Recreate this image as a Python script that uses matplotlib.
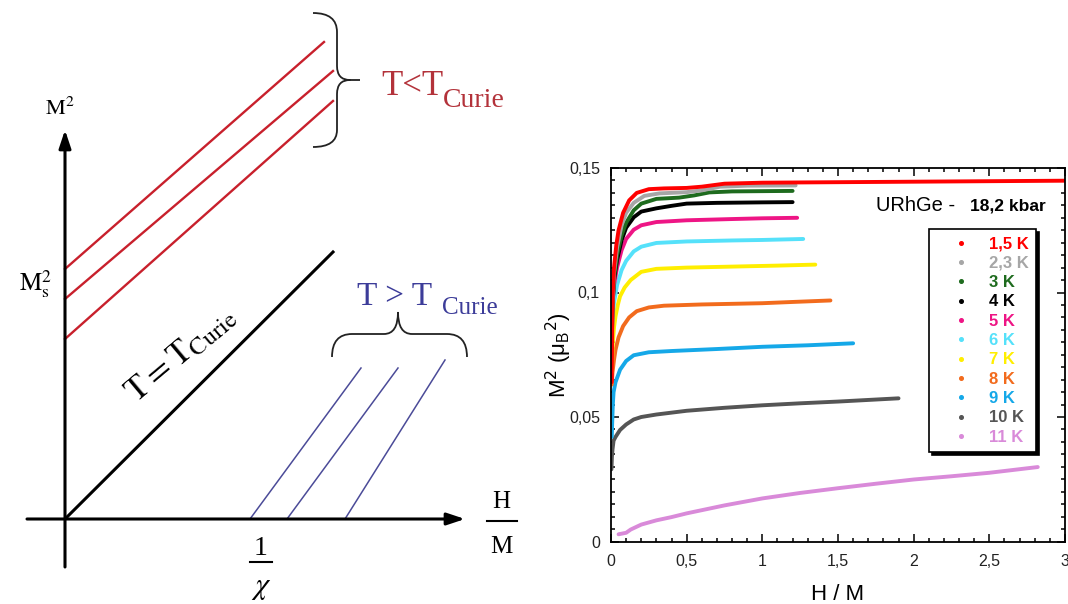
import matplotlib
matplotlib.use('Agg')
import matplotlib.pyplot as plt
from matplotlib.lines import Line2D
from matplotlib.path import Path
from matplotlib.patches import PathPatch
from matplotlib.ticker import MultipleLocator

plt.rcParams['font.family'] = ['Liberation Sans', 'DejaVu Sans']

# ---- left sketch (drawn in pixel units of the picture) ----
origin = (65, 519)
red_y0 = [269, 299, 339]
red_x1 = [324, 333, 333]
red_y1 = [42, 71, 101]
curie_x = [65, 333]
curie_y = [519, 252]
blue_x0 = [250, 287, 345]
blue_x1 = [361, 398, 445]
blue_y1 = [368, 368, 360]

# ---- right plot: URhGe at 18,2 kbar ----
labels = ['1,5 K', '2,3 K', '3 K', '4 K', '5 K', '6 K', '7 K', '8 K', '9 K', '10 K', '11 K']
colors = ['#ff0000', '#a6a6a6', '#1e6b1e', '#000000', '#ee1585', '#55e1fa',
          '#ffee00', '#f26b1d', '#15a8e8', '#555555', '#d98ad9']

x15 = [0.005, 0.008, 0.012, 0.02, 0.035, 0.05, 0.08, 0.12, 0.17, 0.25, 0.35, 0.5, 0.6, 0.75, 1.0, 1.5, 2.0, 2.5, 3.0]
y15 = [0.064, 0.085, 0.100, 0.110, 0.119, 0.125, 0.132, 0.137, 0.1400, 0.1415, 0.1418, 0.1420, 0.1425, 0.1437, 0.1441, 0.1443, 0.1445, 0.1447, 0.1449]
x23 = [0.005, 0.01, 0.02, 0.04, 0.07, 0.1, 0.15, 0.22, 0.32, 0.5, 0.6, 0.72, 0.9, 1.22]
y23 = [0.078, 0.095, 0.108, 0.118, 0.127, 0.132, 0.136, 0.1388, 0.1398, 0.1403, 0.1410, 0.1425, 0.1429, 0.1430]
x3 = [0.005, 0.01, 0.02, 0.04, 0.07, 0.1, 0.15, 0.2, 0.3, 0.45, 0.55, 0.65, 0.8, 1.0, 1.2]
y3 = [0.080, 0.094, 0.106, 0.115, 0.123, 0.128, 0.1330, 0.1357, 0.1376, 0.1381, 0.1390, 0.1402, 0.1406, 0.1407, 0.1408]
x4 = [0.005, 0.01, 0.02, 0.04, 0.07, 0.1, 0.15, 0.2, 0.3, 0.4, 0.5, 0.7, 1.0, 1.2]
y4 = [0.085, 0.095, 0.105, 0.113, 0.121, 0.126, 0.1302, 0.1325, 0.1338, 0.1348, 0.1357, 0.1360, 0.1362, 0.1363]
x5 = [0.005, 0.01, 0.02, 0.04, 0.07, 0.1, 0.15, 0.2, 0.3, 0.5, 0.8, 1.0, 1.23]
y5 = [0.088, 0.096, 0.103, 0.110, 0.117, 0.1215, 0.1252, 0.1270, 0.1283, 0.1290, 0.1295, 0.1298, 0.1300]
x6 = [0.005, 0.01, 0.02, 0.04, 0.07, 0.1, 0.15, 0.2, 0.3, 0.5, 0.8, 1.0, 1.27]
y6 = [0.084, 0.090, 0.096, 0.103, 0.109, 0.1127, 0.1165, 0.1184, 0.1199, 0.1205, 0.1209, 0.1211, 0.1215]
x7 = [0.005, 0.01, 0.02, 0.03, 0.045, 0.06, 0.09, 0.13, 0.2, 0.3, 0.5, 0.8, 1.1, 1.35]
y7 = [0.068, 0.078, 0.086, 0.0905, 0.095, 0.0985, 0.102, 0.105, 0.1083, 0.1095, 0.1100, 0.1104, 0.1108, 0.1112]
x8 = [0.005, 0.01, 0.02, 0.03, 0.05, 0.08, 0.12, 0.17, 0.25, 0.35, 0.6, 1.0, 1.2, 1.45]
y8 = [0.063, 0.068, 0.073, 0.077, 0.082, 0.0865, 0.0900, 0.0925, 0.0940, 0.0947, 0.0952, 0.0957, 0.0962, 0.0968]
x9 = [0.005, 0.008, 0.012, 0.017, 0.03, 0.06, 0.1, 0.15, 0.25, 0.4, 0.7, 1.0, 1.3, 1.6]
y9 = [0.042, 0.048, 0.055, 0.060, 0.064, 0.069, 0.0725, 0.0748, 0.0760, 0.0765, 0.0773, 0.0782, 0.0788, 0.0796]
x10 = [0.003, 0.006, 0.01, 0.017, 0.03, 0.06, 0.1, 0.15, 0.2, 0.3, 0.5, 0.75, 1.0, 1.25, 1.5, 1.9]
y10 = [0.029, 0.034, 0.037, 0.0405, 0.042, 0.0448, 0.0470, 0.0490, 0.0500, 0.0510, 0.0525, 0.0537, 0.0547, 0.0555, 0.0562, 0.0575]
x11 = [0.05, 0.1, 0.13, 0.2, 0.3, 0.4, 0.5, 0.75, 1.0, 1.25, 1.5, 1.75, 2.0, 2.25, 2.5, 2.82]
y11 = [0.0029, 0.0035, 0.0048, 0.0068, 0.0085, 0.0098, 0.0113, 0.0145, 0.0173, 0.0195, 0.0214, 0.0232, 0.0249, 0.0262, 0.0276, 0.0299]

xs = [x15, x23, x3, x4, x5, x6, x7, x8, x9, x10, x11]
ys = [y15, y23, y3, y4, y5, y6, y7, y8, y9, y10, y11]

xticks = [0, 0.5, 1, 1.5, 2, 2.5, 3]
xticklabels = ['0', '0,5', '1', '1,5', '2', '2,5', '3']
yticks = [0, 0.05, 0.1, 0.15]
yticklabels = ['0', '0,05', '0,1', '0,15']

red_line = '#c8202c'
red_text = '#b3323a'
blue_line = '#4b4b98'
blue_text = '#3c3c99'

fig = plt.figure(figsize=(10.68, 6.04), dpi=100)

# sketch
ax0 = fig.add_axes([0, 0, 1, 1])
ax0.set_xlim(0, 1068)
ax0.set_ylim(604, 0)
ax0.axis('off')

arrow = dict(arrowstyle='-|>,head_length=0.9,head_width=0.3', lw=2.2, color='black',
             shrinkA=0, shrinkB=0, mutation_scale=12)
ax0.annotate('', xy=(origin[0], 130), xytext=(origin[0], 567), arrowprops=arrow)
ax0.annotate('', xy=(465, origin[1]), xytext=(27, origin[1]), arrowprops=arrow)

for y0, x1, y1 in zip(red_y0, red_x1, red_y1):
    ax0.plot([origin[0], x1], [y0, y1], color=red_line, lw=1.7)
ax0.plot(curie_x, curie_y, color='black', lw=2.2)
for x0, x1, y1 in zip(blue_x0, blue_x1, blue_y1):
    ax0.plot([x0, x1], [origin[1], y1], color=blue_line, lw=1.1)

M, L, C = Path.MOVETO, Path.LINETO, Path.CURVE3
brace_red = Path([(313, 13), (337, 13), (337, 32), (337, 66), (337, 80), (350, 80),
                  (337, 80), (337, 94), (337, 130), (337, 147), (313, 147),
                  (350, 80), (360, 80)],
                 [M, C, C, L, C, C, C, C, L, C, C, M, L])
ax0.add_patch(PathPatch(brace_red, fill=False, lw=1.3, edgecolor='#222222'))
brace_blue = Path([(332, 357), (332, 334), (352, 334), (384, 334), (398, 334), (398, 312),
                   (398, 334), (412, 334), (447, 334), (467, 334), (467, 357)],
                  [M, C, C, L, C, C, C, C, L, C, C])
ax0.add_patch(PathPatch(brace_blue, fill=False, lw=1.3, edgecolor='#222222'))

serif = 'Liberation Serif'
ax0.text(45, 115, r'$\mathrm{M}^2$', fontsize=16, math_fontfamily='stix', va='baseline')
ax0.text(19, 291, r'$\mathrm{M}_\mathrm{s}^2$', fontsize=18, math_fontfamily='stix', va='baseline')
ax0.text(381, 95, 'T<T', fontsize=25, family=serif, color=red_text, va='baseline')
ax0.text(443, 107, 'Curie', fontsize=20, family=serif, color=red_text, va='baseline')
ax0.text(357, 305, 'T > T', fontsize=24, family=serif, color=blue_text, va='baseline')
ax0.text(442, 314, 'Curie', fontsize=18, family=serif, color=blue_text, va='baseline')
ax0.text(180, 354, r'$\mathrm{T = T_{Curie}}$', fontsize=25, math_fontfamily='stix',
         rotation=40, ha='center', va='center', rotation_mode='anchor')
ax0.text(261, 555, '1', fontsize=20, family=serif, ha='center', va='baseline')
ax0.plot([250, 272], [562, 562], color='black', lw=1.5)
ax0.text(261, 594, r'$\chi$', fontsize=22, math_fontfamily='stix', ha='center', va='baseline')
ax0.text(501, 508, 'H', fontsize=18, family=serif, ha='center', va='baseline')
ax0.plot([487, 517], [521, 521], color='black', lw=1.5)
ax0.text(501, 553, 'M', fontsize=18, family=serif, ha='center', va='baseline')

# data plot
ax = fig.add_axes([611 / 1068, 62.5 / 604, 454 / 1068, 373.5 / 604])
for x, y, c in list(zip(xs, ys, colors))[::-1]:
    ax.plot(x, y, color=c, lw=2.8, solid_capstyle='round', solid_joinstyle='round')

ax.set_xlim(0, 3)
ax.set_ylim(0, 0.15)
ax.set_xticks(xticks, xticklabels)
ax.set_yticks(yticks, yticklabels)
ax.xaxis.set_minor_locator(MultipleLocator(0.1))
ax.yaxis.set_minor_locator(MultipleLocator(0.005))
ax.tick_params(which='both', direction='in', top=True, right=True, width=1.1,
               labelsize=11.5, labelcolor='#222222')
ax.tick_params(which='major', length=5.8)
ax.tick_params(which='minor', length=3)
ax.tick_params(axis='x', pad=9)
ax.tick_params(axis='y', pad=8)
for s in ax.spines.values():
    s.set_linewidth(1.3)
ax.set_xlabel('H / M', fontsize=16, labelpad=11)
ax.set_ylabel(r'M$^2$ ($\mathregular{\mu_B}$$^2$)', fontsize=16, labelpad=-4)

ax.text(0.584, 0.886, 'URhGe -', fontsize=14.5, transform=ax.transAxes, va='baseline')
ax.text(0.957, 0.886, '18,2 kbar', fontsize=12.5, weight='bold', transform=ax.transAxes,
        ha='right', va='baseline')

handles = [Line2D([], [], ls='none', marker='o', ms=2.6, color=c) for c in colors]
leg = ax.legend(handles, labels, loc='upper left', bbox_to_anchor=(0.701, 0.837),
                labelcolor=colors, prop={'weight': 'bold', 'size': 12},
                fancybox=False, edgecolor='black', framealpha=1,
                shadow={'color': 'black', 'alpha': 1},
                borderpad=0.45, handlelength=2.9, handletextpad=0.22,
                labelspacing=0.26, borderaxespad=0)
leg.get_frame().set_linewidth(1.2)

fig.savefig('out.png', dpi=100)
